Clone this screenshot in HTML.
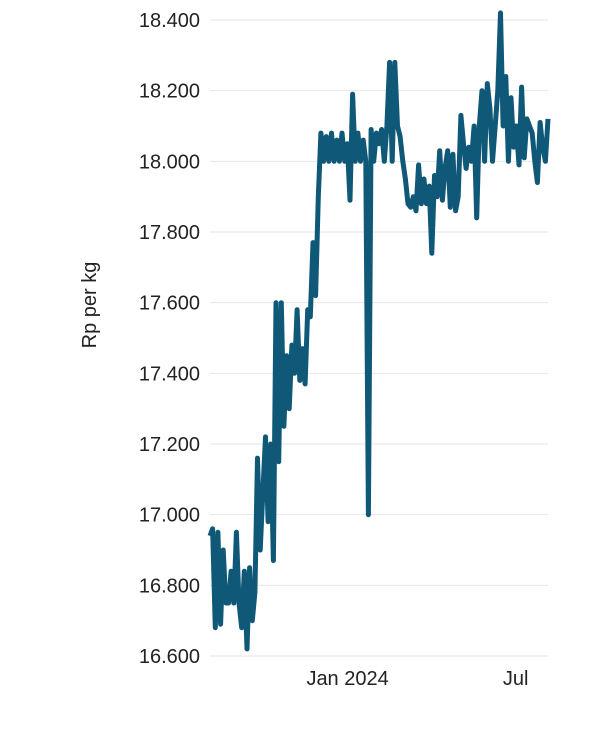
<!DOCTYPE html>
<html><head><meta charset="utf-8"><style>
body{margin:0;background:#fff;width:604px;height:728px;overflow:hidden;font-family:"Liberation Sans",sans-serif}
</style></head><body>
<svg id="chart" width="604" height="728" xmlns="http://www.w3.org/2000/svg">
<g id="grid"></g>
<g id="yt"></g>
<g id="xt"></g>
<text transform="translate(96,305) rotate(-90)" text-anchor="middle" font-size="20" fill="#222">Rp per kg</text>
<path id="line" fill="none" stroke="#0f5878" stroke-width="5" stroke-linejoin="round"/>
</svg>
<script>
const yTicks=[16600,16800,17000,17200,17400,17600,17800,18000,18200,18400];
const yTickLabels=["16.600","16.800","17.000","17.200","17.400","17.600","17.800","18.000","18.200","18.400"];
const xTickDays=[149,331];
const xTickLabels=["Jan 2024","Jul"];
const values=[16940,16960,16680,16950,16690,16900,16750,16750,16840,16750,16950,16750,16680,16840,16620,16850,16700,16780,17160,16900,17060,17220,16980,17200,16870,17600,
17150,17600,17250,17450,17300,17480,17400,17580,17380,17470,17370,
17580,17560,17770,17620,17900,18080,
18000,18070,18000,18080,18000,18060,18000,18080,18000,18050,17890,18190,18000,18080,18000,18060,18000,17000,
18090,18000,18080,18050,18090,18000,18100,18280,18000,18280,18100,18070,18000,17950,
17880,17870,17900,17860,17990,17880,17950,17880,17930,17740,17960,17900,18030,17890,17980,18030,17870,18020,17860,17900,18130,
18050,17980,18040,18000,18100,17840,18100,18200,18000,18220,18150,18000,18100,18200,18420,18100,18240,18000,18180,18040,18100,17990,18210,18010,18120,18100,18080,18000,17940,18110,18040,18000,18120];
const totalDays=366;
const x0=210,x1=548;
function xDay(d){return x0+(d/totalDays)*(x1-x0);}
function xIdx(i){return xDay(i*totalDays/(values.length-1));}
function y(v){return 20+(18400-v)*636/1800;}
const NS="http://www.w3.org/2000/svg";
const grid=document.getElementById('grid'),yt=document.getElementById('yt'),xt=document.getElementById('xt');
yTicks.forEach((t,i)=>{
 const l=document.createElementNS(NS,'line');
 
 
 l.setAttribute('x1',210);l.setAttribute('x2',548);l.setAttribute('y1',y(t));l.setAttribute('y2',y(t));
 l.setAttribute('stroke','#e6e6e6');l.setAttribute('stroke-width','1');
 grid.appendChild(l);
 const tx=document.createElementNS(NS,'text');
 
 
 tx.setAttribute('x',200);tx.setAttribute('y',y(t)+7);tx.setAttribute('text-anchor','end');
 tx.setAttribute('font-size','20');tx.setAttribute('fill','#222');
 tx.textContent=yTickLabels[i];yt.appendChild(tx);
});
xTickDays.forEach((d,i)=>{
 const tx=document.createElementNS(NS,'text');
 
 
 tx.setAttribute('x',xDay(d));tx.setAttribute('y',685);tx.setAttribute('text-anchor','middle');
 tx.setAttribute('font-size','20');tx.setAttribute('fill','#222');
 tx.textContent=xTickLabels[i];xt.appendChild(tx);
});
document.getElementById('line').setAttribute('d',values.map((v,i)=>(i?'L':'M')+xIdx(i).toFixed(1)+','+y(v).toFixed(1)).join(''));
</script>
</body></html>
